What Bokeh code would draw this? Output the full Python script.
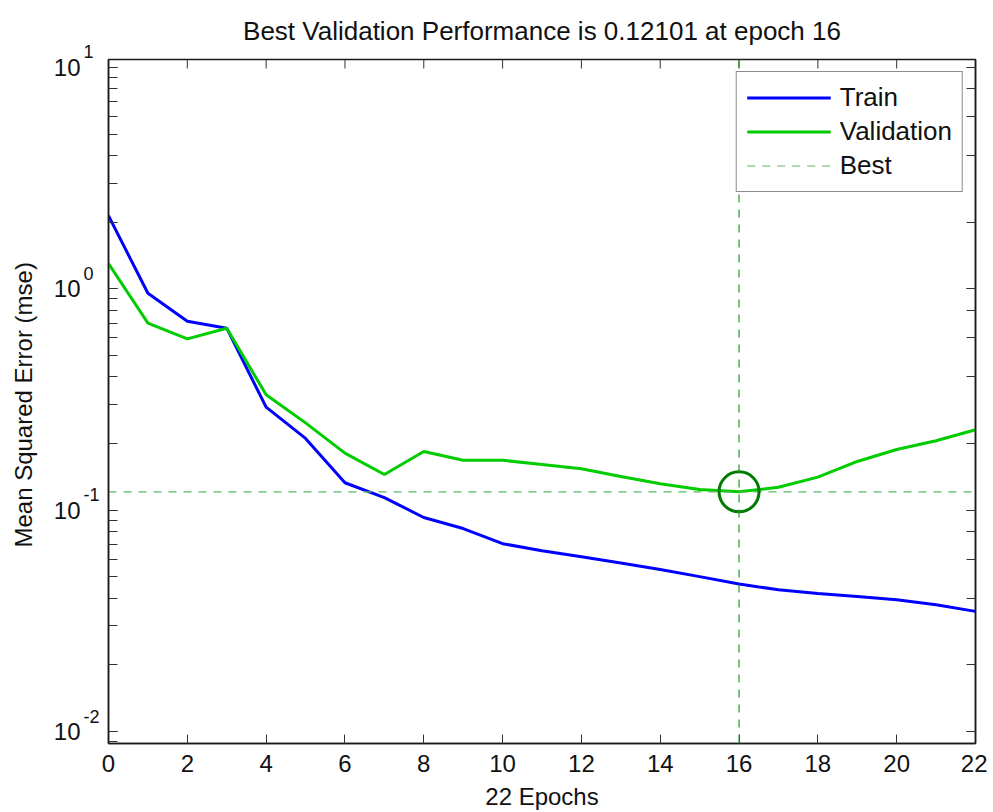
import math
from bokeh.plotting import figure
from bokeh.models import (Range1d, LogAxis, Span, Legend, LegendItem,
                          CustomJSTickFormatter, FixedTicker)
from bokeh.embed import file_html
from bokeh.resources import INLINE

# ---- data ----
epochs = list(range(23))
train_mse = [2.14, 0.955, 0.714, 0.664, 0.292, 0.211, 0.133, 0.114, 0.0927, 0.0826,
             0.0706, 0.0656, 0.0616, 0.0577, 0.0540, 0.0501, 0.0464, 0.0437, 0.0420,
             0.0407, 0.0394, 0.0374, 0.0349]
valid_mse = [1.30, 0.700, 0.594, 0.664, 0.332, 0.248, 0.181, 0.145, 0.184, 0.168,
             0.168, 0.161, 0.154, 0.142, 0.1316, 0.124, 0.12101, 0.127, 0.141,
             0.166, 0.188, 0.206, 0.231]
best_epoch = 16
best_perf = 0.12101

x_ticks = [0, 2, 4, 6, 8, 10, 12, 14, 16, 18, 20, 22]
y_tick_values = [0.01, 0.1, 1, 10]
y_tick_base = "10"
y_tick_exponents = ["-2", "-1", "0", "1"]

title_text = "Best Validation Performance is 0.12101 at epoch 16"
x_label = "22 Epochs"
y_label = "Mean Squared Error  (mse)"

FONT = "Liberation Sans"
FS = "24px"
INK = "#111111"
AX = "#1a1a1a"

FRAME_H = 684
y_lo, y_hi = 10 ** -2.054, 10 ** 1.036
p = figure(frame_width=867, frame_height=FRAME_H, y_axis_type="log",
           x_range=Range1d(0, 22), y_range=Range1d(y_lo, y_hi),
           output_backend="svg", toolbar_location=None,
           min_border_left=108, min_border_right=12, min_border_top=59,
           min_border_bottom=40, background_fill_color="white",
           border_fill_color="white")

p.title.text = title_text
p.title.align = "center"
p.title.text_font = FONT
p.title.text_font_size = "26px"
p.title.text_font_style = "normal"
p.title.text_color = INK
p.title.standoff = 27

p.xgrid.visible = False
p.ygrid.visible = False
p.outline_line_color = AX
p.outline_line_width = 1.5

# x axis (below)
xa = p.xaxis[0]
xa.ticker = FixedTicker(ticks=x_ticks)
xa.major_tick_in = 9
xa.major_tick_out = 0
xa.minor_tick_line_color = None
xa.axis_line_color = AX
xa.axis_line_width = 1.5
xa.major_tick_line_color = "#333333"
xa.major_label_text_font = FONT
xa.major_label_text_font_size = FS
xa.major_label_text_color = INK
xa.major_label_standoff = 11
xa.axis_label = x_label
xa.axis_label_text_font = FONT
xa.axis_label_text_font_size = FS
xa.axis_label_text_font_style = "normal"
xa.axis_label_text_color = INK
xa.axis_label_standoff = 8

# inner left axis: ticks + raised exponents
pad = "\u2004"
exp_labels = [e if e.startswith("-") else e + pad for e in y_tick_exponents]
ya = p.yaxis[0]
ya.formatter = CustomJSTickFormatter(args=dict(vals=y_tick_values, labs=exp_labels), code="""
    for (let i = 0; i < vals.length; i++) {
        if (Math.abs(Math.log10(vals[i]) - Math.log10(tick)) < 1e-6) { return labs[i] + "\\n\\u2004"; }
    }
    return "";
""")
ya.major_tick_in = 9
ya.major_tick_out = 0
ya.minor_tick_in = 9
ya.minor_tick_out = 0
ya.axis_line_color = AX
ya.axis_line_width = 1.5
ya.major_tick_line_color = "#333333"
ya.minor_tick_line_color = "#333333"
ya.major_label_text_font = FONT
ya.major_label_text_font_size = "18px"
ya.major_label_text_line_height = 1.5
ya.major_label_text_color = INK
ya.major_label_standoff = 9

# outer left axis: base "10" labels + axis title
base_axis = LogAxis(
    formatter=CustomJSTickFormatter(args=dict(vals=y_tick_values, base=y_tick_base), code="""
        for (let i = 0; i < vals.length; i++) {
            if (Math.abs(Math.log10(vals[i]) - Math.log10(tick)) < 1e-6) { return base; }
        }
        return "";
    """),
    major_tick_in=0, major_tick_out=0, minor_tick_in=0, minor_tick_out=0,
    axis_line_color=None, major_tick_line_color=None, minor_tick_line_color=None,
    major_label_standoff=0, major_label_text_font=FONT, major_label_text_font_size=FS,
    major_label_text_color=INK,
    axis_label=y_label, axis_label_text_font=FONT, axis_label_text_font_size=FS,
    axis_label_text_font_style="normal", axis_label_text_color=INK,
    axis_label_standoff=14)
p.add_layout(base_axis, "left")

blank = CustomJSTickFormatter(code="return '';")
right_axis = LogAxis(formatter=blank, major_tick_in=9, major_tick_out=0,
                     minor_tick_in=9, minor_tick_out=0,
                     axis_line_color=AX, axis_line_width=1.5,
                     major_tick_line_color="#333333", minor_tick_line_color="#333333",
                     major_label_standoff=0, major_label_text_font_size="1px")
p.add_layout(right_axis, "right")

# top box ticks: 9 px inward from the top edge (converted to log-data units)
tick_px = 9
dec_per_px = math.log10(y_hi / y_lo) / FRAME_H
y_tick_end = y_hi / 10 ** (tick_px * dec_per_px)
p.segment(x0=x_ticks, y0=[y_hi] * len(x_ticks), x1=x_ticks,
          y1=[y_tick_end] * len(x_ticks), line_color="#333333", line_width=1)

# ---- series ----
r_train = p.line(epochs, train_mse, line_color="#0000ff", line_width=3)
r_valid = p.line(epochs, valid_mse, line_color="#00cc00", line_width=3)
r_best = p.line([epochs[0], epochs[-1]], [best_perf, best_perf],
                line_color="#5cb85c", line_width=1.2, line_dash="8 7")
p.add_layout(Span(location=best_epoch, dimension="height", line_color="#229922",
                  line_width=1.2, line_dash="8 7"))
p.scatter([best_epoch], [best_perf], marker="circle", size=40, fill_color=None,
          line_color="#007a00", line_width=3)

legend = Legend(items=[LegendItem(label="Train", renderers=[r_train]),
                       LegendItem(label="Validation", renderers=[r_valid]),
                       LegendItem(label="Best", renderers=[r_best])],
                location="top_right", margin=12, padding=10, spacing=3,
                glyph_width=84, glyph_height=31, label_height=31, label_standoff=9,
                label_text_font=FONT, label_text_font_size="26px",
                label_text_color=INK, border_line_color=AX,
                border_line_width=1.2, background_fill_color="white",
                background_fill_alpha=1.0)
p.add_layout(legend, "center")

open("out.html", "w").write(file_html(p, INLINE))
